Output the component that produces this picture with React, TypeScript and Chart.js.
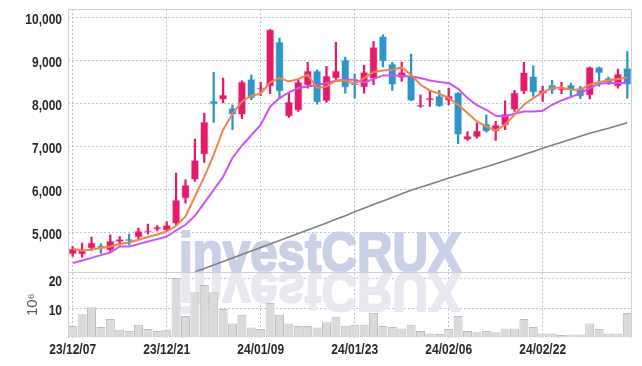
import React, { useEffect, useRef } from 'react';
import { Chart, registerables } from 'chart.js';
Chart.register(...registerables);

const dates = [
  '23/12/07', '23/12/08', '23/12/11', '23/12/12', '23/12/13', '23/12/14', '23/12/15', '23/12/18', '23/12/19', '23/12/20',
  '23/12/21', '23/12/22', '23/12/26', '23/12/27', '23/12/28', '24/01/02', '24/01/03', '24/01/04', '24/01/05', '24/01/08',
  '24/01/09', '24/01/10', '24/01/11', '24/01/12', '24/01/15', '24/01/16', '24/01/17', '24/01/18', '24/01/19', '24/01/22',
  '24/01/23', '24/01/24', '24/01/25', '24/01/26', '24/01/29', '24/01/30', '24/01/31', '24/02/01', '24/02/02', '24/02/05',
  '24/02/06', '24/02/07', '24/02/08', '24/02/13', '24/02/14', '24/02/15', '24/02/16', '24/02/19', '24/02/20', '24/02/21',
  '24/02/22', '24/02/23', '24/02/26', '24/02/27', '24/02/28', '24/02/29', '24/03/04', '24/03/05', '24/03/06', '24/03/07',
];

const openP = [
  4488, 4479, 4619, 4688, 4572, 4774, 4844, 4874, 4991, 5060,
  5037, 5193, 5781, 6216, 6804, 8053, 8076, 7883, 7727, 8558,
  8309, 8386, 9425, 7688, 7828, 8409, 8751, 8046, 8572, 9007,
  8449, 8362, 8565, 9549, 8914, 8581, 8618, 7914, 8060, 8170,
  8053, 8246, 7146, 7209, 7518, 7339, 7479, 7844, 8270, 8618,
  8216, 8425, 8293, 8425, 8349, 8176, 8837, 8581, 8386, 8814,
];
const closeP = [
  4612, 4572, 4758, 4628, 4798, 4837, 4791, 5030, 5037, 5123,
  5163, 5751, 6093, 6675, 7565, 7967, 8193, 7727, 8495, 8116,
  8355, 9705, 8269, 8030, 8495, 8751, 8014, 8635, 8751, 8362,
  8409, 8721, 9302, 8967, 8425, 8721, 8053, 7953, 8123, 7920,
  8170, 7262, 7239, 7362, 7339, 7495, 7751, 8246, 8711, 8246,
  8293, 8293, 8339, 8309, 8153, 8837, 8697, 8465, 8681, 8425,
];
const highP = [
  4665, 4744, 4884, 4728, 4937, 4898, 4953, 5093, 5186, 5154,
  5247, 6372, 6216, 7163, 7767, 8711, 8581, 7960, 8518, 8658,
  8479, 9705, 9512, 8232, 8558, 8944, 8774, 8851, 9409, 9070,
  8674, 8874, 9433, 9588, 8944, 8953, 9139, 8193, 8286, 8293,
  8349, 8246, 7339, 7534, 7727, 7572, 8053, 8293, 8944, 8867,
  8386, 8526, 8479, 8465, 8386, 8837, 8837, 8604, 8790, 9200,
];
const lowP = [
  4432, 4418, 4572, 4512, 4549, 4698, 4705, 4837, 4953, 5030,
  5014, 5170, 5674, 6180, 6618, 7548, 8000, 7379, 7634, 8076,
  8169, 8216, 8093, 7665, 7804, 8348, 7976, 8014, 8502, 8232,
  8116, 8232, 8425, 8837, 8293, 8502, 8053, 7897, 7920, 7920,
  7960, 7053, 7130, 7186, 7325, 7130, 7379, 7804, 8216, 8153,
  8037, 8216, 8216, 8153, 8100, 8093, 8386, 8425, 8348, 8116,
];

// volume, in units of 10^6
const volume = [
  3.9, 7.9, 10.3, 3.6, 6.3, 2.6, 2.2, 4.3, 2.9, 2.2,
  2.6, 20.2, 7.3, 15.4, 17.9, 15.4, 9.7, 4.8, 7.7, 3.4,
  2.9, 11.7, 7.7, 4.8, 3.9, 3.9, 3.4, 5.2, 7.1, 4.0,
  4.3, 4.3, 8.3, 3.9, 3.6, 3.1, 4.3, 2.2, 1.4, 1.2,
  2.9, 7.3, 2.2, 1.8, 2.2, 1.8, 3.1, 3.1, 6.3, 3.6,
  1.4, 1.4, 0.85, 1.0, 1.0, 4.8, 2.9, 1.4, 1.4, 8.3,
];

const maShort = [
  4612, 4572, 4588, 4628, 4665, 4721, 4758, 4821, 4884, 4944,
  5014, 5147, 5363, 5828, 6285, 6797, 7379, 7751, 8030, 8170,
  8216, 8479, 8581, 8502, 8558, 8658, 8349, 8386, 8525, 8518,
  8449, 8581, 8721, 8758, 8774, 8828, 8658, 8425, 8293, 8216,
  8116, 7960, 7767, 7572, 7455, 7362, 7495, 7727, 7960, 8116,
  8246, 8349, 8363, 8309, 8309, 8425, 8488, 8525, 8558, 8595,
];
const maMid = [
  4279, 4340, 4401, 4464, 4525, 4665, 4665, 4721, 4782, 4837,
  4898, 5037, 5170, 5378, 5681, 5983, 6285, 6728, 7007, 7251,
  7495, 7914, 8116, 8246, 8349, 8386, 8418, 8465, 8518, 8542,
  8542, 8479, 8558, 8642, 8642, 8635, 8618, 8581, 8525, 8488,
  8465, 8330, 8116, 7950, 7844, 7704, 7688, 7751, 7804, 7804,
  7821, 7960, 8060, 8139, 8232, 8349, 8449, 8465, 8465, 8465,
];
const maLong = [
  null, null, null, null, null, null, null, null, null, null,
  null, null, null, 4080, 4155, 4236, 4318, 4399, 4480, 4562,
  4643, 4722, 4804, 4885, 4969, 5050, 5132, 5213, 5297, 5378,
  5471, 5555, 5639, 5722, 5806, 5890, 5971, 6041, 6111, 6181,
  6255, 6320, 6388, 6453, 6518, 6588, 6657, 6727, 6802, 6876,
  6948, 7018, 7088, 7158, 7227, 7297, 7355, 7413, 7479, 7541,
];

const priceTicks = [5000, 6000, 7000, 8000, 9000, 10000];
const volumeTicks = [10, 20];
const labelEvery = 10;

const UP = '#e31b6b';
const DOWN = '#2e95c6';
const UP_HALO = 'rgba(227,27,107,0.22)';
const DOWN_HALO = 'rgba(46,149,198,0.22)';
const GRID = 'rgba(168,176,205,0.75)';
const LABEL_FONT = "bold 15px 'Liberation Sans', Arial, sans-serif";
const LABEL_SQUEEZE = 0.8;

const isUp = (i: number) => closeP[i] >= openP[i];

function squeezedText(ctx: CanvasRenderingContext2D, text: string, x: number, y: number, align: CanvasTextAlign) {
  ctx.save();
  ctx.translate(x, y);
  ctx.scale(LABEL_SQUEEZE, 1);
  ctx.font = LABEL_FONT;
  ctx.fillStyle = '#2a2a2a';
  ctx.textAlign = align;
  ctx.textBaseline = 'alphabetic';
  ctx.fillText(text, 0, 0);
  ctx.restore();
}

const framePlugin = {
  id: 'frameAndMark',
  beforeDatasetsDraw(chart: any) {
    const { ctx, chartArea: ca, scales } = chart;
    const yb = scales.y.bottom;
    ctx.save();
    ctx.beginPath();
    ctx.rect(ca.left, ca.top, ca.right - ca.left, ca.bottom - ca.top);
    ctx.clip();
    ctx.font = "bold 55px 'Liberation Sans', Arial, sans-serif";
    const text = 'investCRUX';
    const w = ctx.measureText(text).width;
    ctx.translate(ca.left + 111, yb - 1);
    ctx.scale(282 / w, 1);
    ctx.textBaseline = 'alphabetic';
    ctx.lineJoin = 'round';
    ctx.lineWidth = 2.2;
    ctx.fillStyle = '#cad1e7';
    ctx.strokeStyle = '#cad1e7';
    ctx.strokeText(text, 0, 0);
    ctx.fillText(text, 0, 0);
    ctx.translate(0, 2);
    ctx.scale(1, -1);
    ctx.fillStyle = '#e8e8f0';
    ctx.strokeStyle = '#e8e8f0';
    ctx.strokeText(text, 0, 0);
    ctx.fillText(text, 0, 0);
    ctx.restore();
  },
  afterDraw(chart: any) {
    const { ctx, chartArea: ca, scales } = chart;
    const yb = scales.y.bottom;
    ctx.save();
    ctx.strokeStyle = '#cfcfd4';
    ctx.lineWidth = 1;
    ctx.beginPath();
    ctx.moveTo(ca.left + 0.5, ca.bottom);
    ctx.lineTo(ca.left + 0.5, ca.top + 0.5);
    ctx.lineTo(ca.right - 0.5, ca.top + 0.5);
    ctx.lineTo(ca.right - 0.5, ca.bottom);
    ctx.moveTo(ca.left, Math.round(yb) + 0.5);
    ctx.lineTo(ca.right, Math.round(yb) + 0.5);
    ctx.stroke();
    ctx.restore();
    // tick labels, positioned by the chart's own scales, drawn in a condensed face
    for (const v of priceTicks) {
      squeezedText(ctx, v.toLocaleString('en-US'), ca.left - 6, scales.y.getPixelForValue(v) + 7, 'right');
    }
    for (const v of volumeTicks) {
      squeezedText(ctx, String(v), ca.left - 6, scales.yv.getPixelForValue(v) + 7, 'right');
    }
    dates.forEach((d, i) => {
      if (i % labelEvery === 0) squeezedText(ctx, d, scales.x.getPixelForValue(i), ca.bottom + 16.5, 'center');
    });
  },
};

export default function App() {
  const ref = useRef<HTMLCanvasElement>(null);
  useEffect(() => {
    if (!ref.current) return;
    const chart = new Chart(ref.current, {
      type: 'bar',
      data: {
        labels: dates,
        datasets: [
          {
            type: 'line', label: 'MA short', data: maShort, yAxisID: 'y',
            borderColor: '#f0844f', borderWidth: 2, pointRadius: 0, tension: 0, order: 0,
          } as any,
          {
            type: 'line', label: 'MA mid', data: maMid, yAxisID: 'y',
            borderColor: '#cc55ee', borderWidth: 2, pointRadius: 0, tension: 0, order: 0,
          } as any,
          {
            type: 'line', label: 'MA long', data: maLong, yAxisID: 'y',
            borderColor: '#808080', borderWidth: 1.6, pointRadius: 0, tension: 0, order: 0,
          } as any,
          {
            label: 'body', data: openP.map((o, i) => [o, closeP[i]]), yAxisID: 'y',
            backgroundColor: openP.map((_, i) => (isUp(i) ? UP : DOWN)),
            borderColor: openP.map((_, i) => (isUp(i) ? UP_HALO : DOWN_HALO)),
            borderWidth: 1, borderSkipped: false, barThickness: 8, grouped: false, order: 1,
          } as any,
          {
            label: 'wick', data: lowP.map((l, i) => [l, highP[i]]), yAxisID: 'y',
            backgroundColor: openP.map((_, i) => (isUp(i) ? UP : DOWN)),
            borderWidth: 0, barThickness: 1.6, grouped: false, order: 2,
          } as any,
          {
            label: 'volume', data: volume, yAxisID: 'yv',
            backgroundColor: '#dadada', borderColor: '#bfbfbf', borderWidth: 1, borderSkipped: false,
            barPercentage: 1, categoryPercentage: 0.96, grouped: false, order: 3,
          } as any,
        ],
      },
      options: {
        animation: false,
        responsive: false,
        events: [],
        layout: { padding: { left: 0, right: 10, top: 9, bottom: 8.5 } },
        plugins: { legend: { display: false }, tooltip: { enabled: false } },
        scales: {
          x: {
            type: 'category',
            offset: true,
            afterFit: (s: any) => { s.height = 20; },
            grid: {
              offset: false,
              drawTicks: false,
              color: (c: any) => (c.index % labelEvery === 0 ? GRID : 'rgba(0,0,0,0)'),
            },
            border: { display: false, dash: [2, 2] },
            ticks: { display: false, autoSkip: false, maxRotation: 0, minRotation: 0 },
          },
          y: {
            type: 'linear', position: 'left', stack: 'panes', stackWeight: 4, weight: 1,
            min: 4077, max: 10186,
            afterFit: (s: any) => { s.width = 68; },
            afterBuildTicks: (s: any) => { s.ticks = priceTicks.map((v) => ({ value: v })); },
            grid: { drawTicks: false, color: GRID },
            border: { display: false, dash: [2, 2] },
            ticks: { display: false },
          },
          yv: {
            type: 'linear', position: 'left', stack: 'panes', stackWeight: 1, weight: 0,
            min: 0, max: 22.35,
            afterFit: (s: any) => { s.width = 68; },
            afterBuildTicks: (s: any) => { s.ticks = volumeTicks.map((v) => ({ value: v })); },
            grid: { drawTicks: false, color: GRID },
            border: { display: false, dash: [2, 2] },
            title: {
              display: true, text: '10⁶', color: '#5a5a5a',
              font: { family: "'Liberation Sans', Arial, sans-serif", size: 15 }, padding: { top: 24, bottom: 0 },
            },
            ticks: { display: false },
          },
        },
      } as any,
      plugins: [framePlugin],
    });
    return () => chart.destroy();
  }, []);
  return (
    <div style={{ position: 'absolute', left: 0, top: 0, width: 642, height: 366, background: '#fff' }}>
      <canvas ref={ref} width={642} height={366} style={{ display: 'block' }} />
    </div>
  );
}
